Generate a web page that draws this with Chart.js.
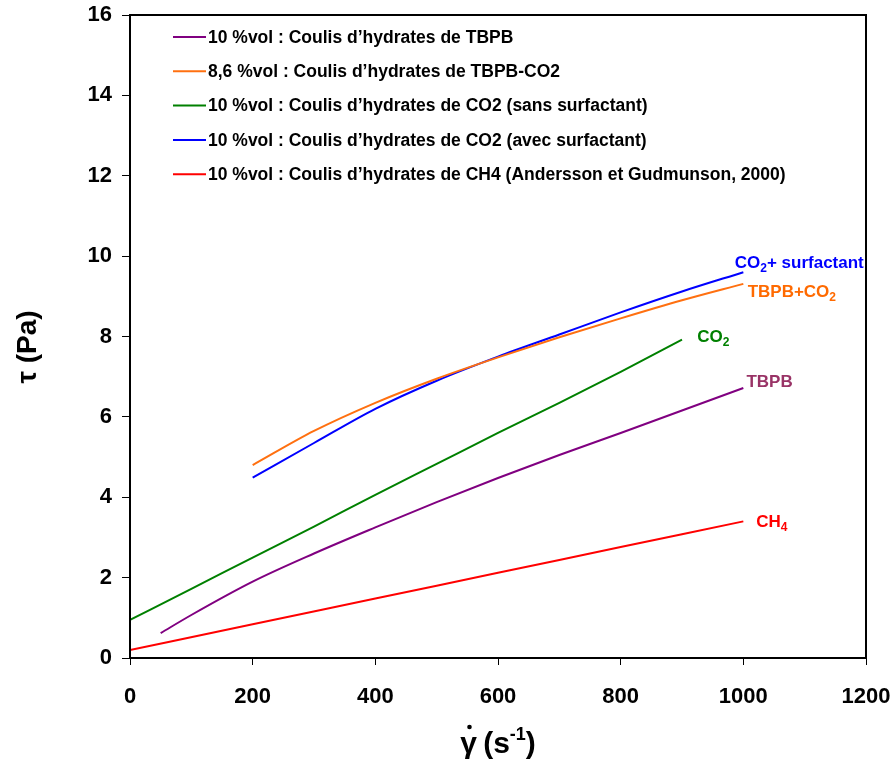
<!DOCTYPE html>
<html>
<head>
<meta charset="utf-8">
<script src="https://cdn.jsdelivr.net/npm/chart.js@4.4.1/dist/chart.umd.min.js"></script>
<style>
  html, body { margin: 0; padding: 0; background: #fff; }
</style>
</head>
<body>
<canvas id="c" width="896" height="763"></canvas>
<script>
// shear rate (s-1) and shear stress (Pa)
var xTBPB = [50, 100, 200, 300, 400, 500, 600, 700, 800, 900, 1000];
var yTBPB = [0.62, 1.07, 1.90, 2.60, 3.25, 3.88, 4.48, 5.05, 5.60, 6.16, 6.72];

var xTBPBCO2 = [200, 300, 400, 500, 600, 700, 800, 900, 1000];
var yTBPBCO2 = [4.80, 5.65, 6.35, 6.95, 7.48, 7.98, 8.45, 8.90, 9.31];

var xCO2 = [0, 100, 200, 300, 400, 500, 600, 700, 800, 900];
var yCO2 = [0.95, 1.72, 2.50, 3.27, 4.06, 4.83, 5.60, 6.35, 7.12, 7.92];

var xCO2surf = [200, 300, 400, 500, 600, 700, 800, 900, 1000];
var yCO2surf = [4.49, 5.35, 6.20, 6.90, 7.50, 8.05, 8.60, 9.12, 9.60];

var xCH4 = [0, 200, 400, 600, 800, 1000];
var yCH4 = [0.20, 0.84, 1.48, 2.12, 2.76, 3.40];

var seriesNames = [
    '10 %vol : Coulis d\u2019hydrates de TBPB',
    '8,6 %vol : Coulis d\u2019hydrates de TBPB-CO2',
    '10 %vol : Coulis d\u2019hydrates de CO2 (sans surfactant)',
    '10 %vol : Coulis d\u2019hydrates de CO2 (avec surfactant)',
    '10 %vol : Coulis d\u2019hydrates de CH4 (Andersson et Gudmunson, 2000)'
];
var seriesColors = ['#800080', '#ff7010', '#008000', '#0000ff', '#ff0000'];

var xTicks = [0, 200, 400, 600, 800, 1000, 1200];
var yTicks = [0, 2, 4, 6, 8, 10, 12, 14, 16];

// labels at the end of each curve: [parts], anchor in data units
var curveLabels = [
    {parts: [['CO', 0], ['2', 1], ['+ surfactant', 0]], x: 986, y: 9.70, color: '#0000ff'},
    {parts: [['TBPB+CO', 0], ['2', 1]], x: 1007, y: 8.99, color: '#ff6a00'},
    {parts: [['CO', 0], ['2', 1]], x: 925, y: 7.86, color: '#008000'},
    {parts: [['TBPB', 0]], x: 1005, y: 6.75, color: '#993366'},
    {parts: [['CH', 0], ['4', 1]], x: 1021, y: 3.27, color: '#ff0000'}
];

var FONT = '"Liberation Sans", Arial, sans-serif';

function pts(xs, ys) {
    return xs.map(function (x, i) { return {x: x, y: ys[i]}; });
}

var allX = [xTBPB, xTBPBCO2, xCO2, xCO2surf, xCH4];
var allY = [yTBPB, yTBPBCO2, yCO2, yCO2surf, yCH4];

var datasets = seriesNames.map(function (name, i) {
    return {
        label: name,
        data: pts(allX[i], allY[i]),
        borderColor: seriesColors[i],
        backgroundColor: seriesColors[i],
        borderWidth: 2,
        pointRadius: 0,
        cubicInterpolationMode: 'monotone',
        fill: false
    };
});

function noPad(s) {
    s.paddingTop = 0; s.paddingBottom = 0; s.paddingLeft = 0; s.paddingRight = 0;
}

var decor = {
    id: 'decor',
    afterDraw: function (chart) {
        var ctx = chart.ctx;
        var a = chart.chartArea;
        var sx = chart.scales.x, sy = chart.scales.y;

        // frame
        ctx.save();
        ctx.strokeStyle = '#000';
        ctx.lineWidth = 2;
        ctx.strokeRect(a.left, a.top, a.right - a.left, a.bottom - a.top);
        ctx.restore();

        // legend
        ctx.save();
        ctx.font = 'bold 17.5px ' + FONT;
        ctx.textBaseline = 'middle';
        chart.data.datasets.forEach(function (ds, i) {
            var y = 37 + i * 34.3;
            ctx.strokeStyle = ds.borderColor;
            ctx.lineWidth = 2;
            ctx.beginPath();
            ctx.moveTo(173, y);
            ctx.lineTo(206, y);
            ctx.stroke();
            ctx.fillStyle = '#000';
            ctx.fillText(ds.label, 208, y + 1);
        });
        ctx.restore();

        // curve labels
        ctx.save();
        ctx.textBaseline = 'alphabetic';
        curveLabels.forEach(function (l) {
            var px = sx.getPixelForValue(l.x);
            var py = sy.getPixelForValue(l.y);
            ctx.fillStyle = l.color;
            l.parts.forEach(function (p) {
                ctx.font = p[1] ? 'bold 12px ' + FONT : 'bold 17px ' + FONT;
                ctx.fillText(p[0], px, py + (p[1] ? 4 : 0));
                px += ctx.measureText(p[0]).width;
            });
        });
        ctx.restore();

        // axis titles
        ctx.save();
        ctx.fillStyle = '#000';
        ctx.textBaseline = 'alphabetic';
        ctx.translate(36, 347);
        ctx.rotate(-Math.PI / 2);
        ctx.font = 'bold 28px ' + FONT;
        ctx.textAlign = 'center';
        ctx.fillText('\u03c4 (Pa)', 0, 0);
        ctx.restore();

        ctx.save();
        ctx.fillStyle = '#000';
        ctx.textBaseline = 'alphabetic';
        var parts = [['\u03b3', 0, 0], [' (s', 0, -2], ['-1', 1, 0], [')', 0, 0]];
        var total = 0;
        parts.forEach(function (p) {
            ctx.font = p[1] ? 'bold 18px ' + FONT : 'bold 30px ' + FONT;
            total += ctx.measureText(p[0]).width + p[2];
        });
        var x = (a.left + a.right) / 2 - total / 2;
        var base = 753;
        parts.forEach(function (p, i) {
            ctx.font = p[1] ? 'bold 18px ' + FONT : 'bold 30px ' + FONT;
            var w = ctx.measureText(p[0]).width;
            x += p[2];
            ctx.fillText(p[0], x, base - (p[1] ? 13 : 0));
            if (i === 0) {
                ctx.beginPath();
                ctx.arc(x + w / 2 + 1, base - 26, 2.3, 0, Math.PI * 2);
                ctx.fill();
            }
            x += w;
        });
        ctx.restore();
    }
};

new Chart(document.getElementById('c'), {
    type: 'line',
    data: {datasets: datasets},
    options: {
        responsive: false,
        animation: false,
        devicePixelRatio: 1,
        layout: {padding: {top: 15, right: 30, left: 0, bottom: 0}},
        plugins: {legend: {display: false}, tooltip: {enabled: false}},
        scales: {
            x: {
                type: 'linear',
                min: 0,
                max: 1200,
                afterBuildTicks: function (s) { s.ticks = xTicks.map(function (v) { return {value: v}; }); },
                afterFit: function (s) { s.height = 105; noPad(s); },
                ticks: {
                    color: '#000',
                    font: {family: FONT, size: 22, weight: 'bold'},
                    padding: 19,
                    maxRotation: 0,
                    callback: function (v) { return String(v); }
                },
                grid: {drawOnChartArea: false, drawTicks: true, tickLength: 7, tickColor: '#000', tickWidth: 1},
                border: {color: '#000', width: 2}
            },
            y: {
                min: 0,
                max: 16,
                afterBuildTicks: function (s) { s.ticks = yTicks.map(function (v) { return {value: v}; }); },
                afterFit: function (s) { s.width = 130; noPad(s); },
                ticks: {
                    color: '#000',
                    font: {family: FONT, size: 22, weight: 'bold'},
                    padding: 10,
                    callback: function (v) { return String(v); }
                },
                grid: {drawOnChartArea: false, drawTicks: true, tickLength: 8, tickColor: '#000', tickWidth: 1},
                border: {color: '#000', width: 2}
            }
        }
    },
    plugins: [decor]
});
</script>
</body>
</html>
